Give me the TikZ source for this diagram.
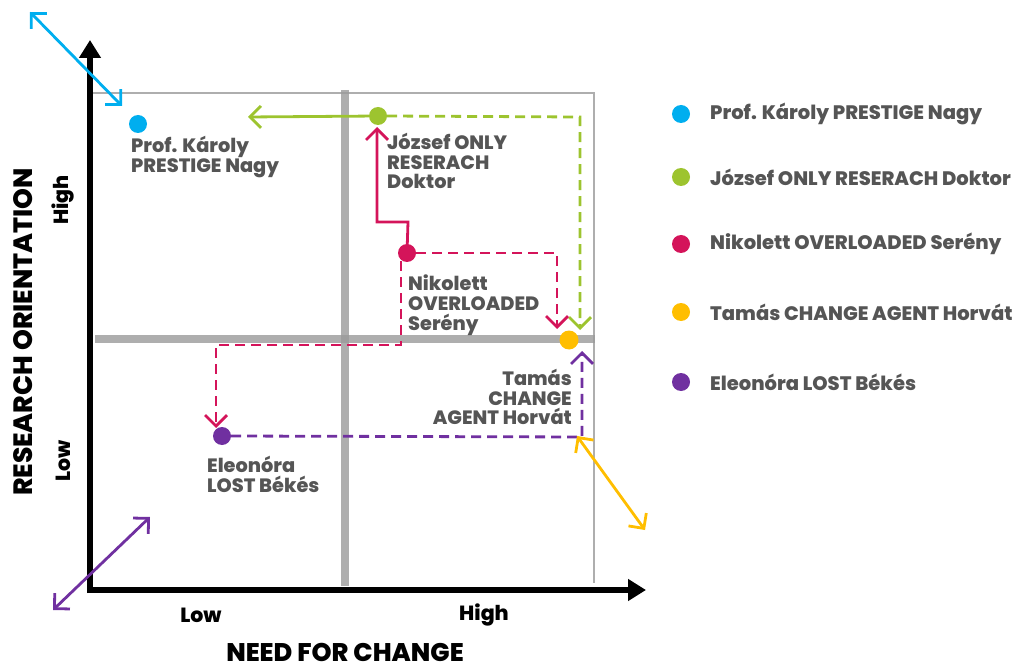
\documentclass[tikz,border=0pt]{standalone}
\usepackage{fontspec}
\setmainfont{Poppins}[BoldFont={* ExtraBold}]
\usetikzlibrary{arrows.meta}
\definecolor{cblue}{HTML}{00AEEF}
\definecolor{cgreen}{HTML}{9DC42F}
\definecolor{cmag}{HTML}{D4145A}
\definecolor{corange}{HTML}{FFBE00}
\definecolor{cpurple}{HTML}{7030A0}
\definecolor{ctext}{HTML}{555555}
\definecolor{cgray}{HTML}{9A9A9A}
\begin{document}
\begin{tikzpicture}[x=1pt,y=-1pt,
  dot/.style={circle,inner sep=0pt,minimum size=18pt},
  lbl/.style={font=\bfseries\fontsize{19.3}{19.6}\selectfont,text=ctext,align=left,inner sep=0pt},
  leg/.style={font=\bfseries\fontsize{19.5}{20}\selectfont,text=ctext,anchor=west,inner sep=0pt},
  axlbl/.style={font=\bfseries\fontsize{20.5}{22}\selectfont,text=black,inner sep=0pt},
  axtitle/.style={font=\bfseries\fontsize{26.5}{28}\selectfont,text=black,inner sep=0pt},
  barb/.style={-{Straight Barb[length=11pt,width=22pt]}},
  dbarb/.style={{Straight Barb[length=11pt,width=22pt]}-{Straight Barb[length=11pt,width=22pt]}},
  conn/.style={line width=2.8pt},
  dashline/.style={conn,dash pattern=on 10pt off 6pt},
  divider/.style={line width=8pt,draw=cgray,opacity=0.8},
  frame/.style={line width=1.3pt,draw=cgray!80},
  axis/.style={line width=6.5pt,-{Triangle[length=18pt,width=21pt]}}
]
\useasboundingbox (0,0) rectangle (1030,668);

% frame and dividers
\draw[frame] (92,93) -- (594,93) -- (594,583);
\draw[divider] (345,90) -- (345,586);
\draw[divider] (95,339) -- (595,339);

% axes
\coordinate (origin) at (90,590);
\coordinate (ytop) at (90,40);
\coordinate (xend) at (646,590);
\draw[axis] (90,593) -- (ytop);
\draw[axis] (87,590) -- (xend);

% axis labels
\node[axlbl,rotate=90] (yhigh) at (63,200) {High};
\node[axlbl,rotate=90] (ylow) at (63,461) {Low};
\node[axlbl] (xlow) at (201,615) {Low};
\node[axlbl] (xhigh) at (484,615) {High};
\node[axtitle,rotate=90] (ytitle) at (23,332) {RESEARCH ORIENTATION};
\node[axtitle,font=\bfseries\fontsize{25.5}{27}\selectfont,anchor=base,text height=18pt,text depth=0pt] (xtitle) at (345,661) {NEED FOR CHANGE};

% persons
\node[dot,fill=cblue] (karoly) at (138,124) {};
\node[dot,fill=cgreen] (jozsef) at (378,116) {};
\node[dot,fill=cmag] (niko) at (407,253) {};
\node[dot,fill=corange,minimum size=19pt] (tamas) at (569,340) {};
\node[dot,fill=cpurple] (eleo) at (222,436) {};

% labels
\node[lbl,anchor=north west] (karolyL) at (131,136) {Prof. Károly\\PRESTIGE Nagy};
\node[lbl,anchor=north west] (jozsefL) at (387,133) {József ONLY\\RESERACH\\Doktor};
\node[lbl,anchor=north west] (nikoL) at (408,275) {Nikolett\\OVERLOADED\\Serény};
\node[lbl,anchor=north east,align=right] (tamasL) at (572,369) {Tamás\\CHANGE\\AGENT Horvát};
\node[lbl,anchor=north west] (eleoL) at (207,456) {Eleonóra\\LOST Békés};

% connectors
\coordinate (gE1) at (248,117);
\draw[conn,cgreen,barb] (jozsef) -- (gE1);
\coordinate (gC1) at (580,117);
\coordinate (gE2) at (580,330);
\draw[dashline,cgreen,barb] (jozsef.east) -- (gC1) -- (gE2);

\coordinate (mC1) at (408,222);
\coordinate (mC2) at (377,222);
\draw[conn,cmag,barb] (niko.center) -- (mC1) -- (mC2) -- (377,127);

\coordinate (mC3) at (557,253);
\coordinate (mE3) at (557,329);
\draw[dashline,cmag,barb] (niko.east) -- (mC3) -- (mE3);

\coordinate (mS) at (401,261);
\coordinate (mC4) at (401,345);
\coordinate (mC5) at (216,345);
\coordinate (mE5) at (216,428);
\draw[dashline,cmag,barb] (mS) -- (mC4) -- (mC5) -- (mE5);

\coordinate (pC1) at (582,437);
\coordinate (pE1) at (582,351);
\draw[dashline,cpurple,barb] (eleo.east) -- (pC1) -- (pE1);

% double arrows
\coordinate (bA) at (30,12);
\coordinate (bB) at (122,106);
\draw[conn,cblue,dbarb] (bA) -- (bB);
\coordinate (oA) at (577,436);
\coordinate (oB) at (645,530);
\draw[conn,corange,dbarb] (oA) -- (oB);
\coordinate (vA) at (53,610);
\coordinate (vB) at (150,517);
\draw[conn,cpurple,dbarb] (vA) -- (vB);

% legend
\node[dot,fill=cblue] (l1) at (681,114) {};
\node[leg] (l1t) at (710,114) {Prof. Károly PRESTIGE Nagy};
\node[dot,fill=cgreen] (l2) at (681,177) {};
\node[leg] (l2t) at (710,177) {József ONLY RESERACH Doktor};
\node[dot,fill=cmag] (l3) at (681,244) {};
\node[leg] (l3t) at (710,244) {Nikolett OVERLOADED Serény};
\node[dot,fill=corange] (l4) at (681,312) {};
\node[leg] (l4t) at (710,312) {Tamás CHANGE AGENT Horvát};
\node[dot,fill=cpurple] (l5) at (681,382) {};
\node[leg] (l5t) at (710,382) {Eleonóra LOST Békés};
\end{tikzpicture}
\end{document}
